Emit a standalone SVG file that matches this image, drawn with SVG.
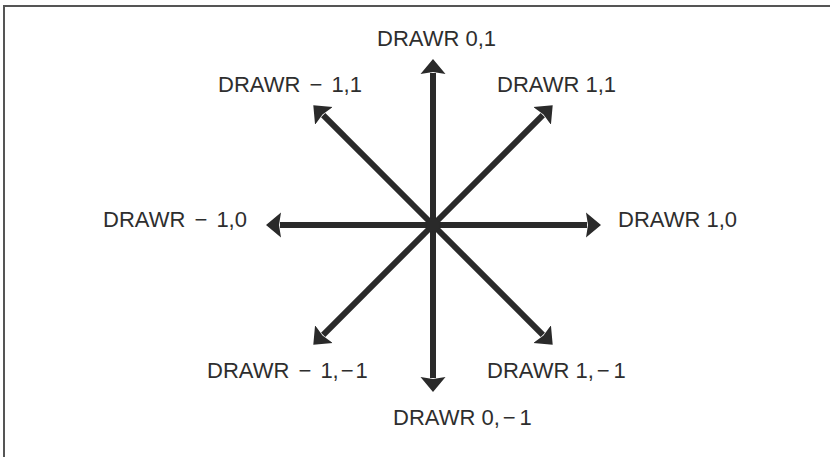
<svg xmlns="http://www.w3.org/2000/svg" width="830" height="457" viewBox="0 0 830 457">
<style>
.lbl{font-family:"Liberation Sans",Arial,Helvetica,sans-serif;font-size:22px;fill:#2e2e2e}
.arr{stroke:#2a2a2a;stroke-width:6;fill:none;marker-end:url(#head)}
</style>
<defs>
<marker id="head" markerUnits="userSpaceOnUse" markerWidth="17" markerHeight="28" viewBox="-1 -14 17 28" refX="0" refY="0" orient="auto">
<path d="M-1,-12.5 L14,0 L-1,12.5 L1,0 Z" fill="#2a2a2a"/>
</marker>
</defs>
<rect width="830" height="457" fill="#fff"/>
<g id="frame" stroke="#555" stroke-width="2" fill="none">
<path d="M4,457 L4,6 L830,6"/>
</g>
<g id="connectors">
<line class="arr" x1="433" y1="225" x2="433" y2="73"/>
<line class="arr" x1="433" y1="225" x2="433" y2="378"/>
<line class="arr" x1="433" y1="225" x2="280" y2="225"/>
<line class="arr" x1="433" y1="225" x2="587" y2="225"/>
<line class="arr" x1="433" y1="225" x2="323.2" y2="115.2"/>
<line class="arr" x1="433" y1="225" x2="542.8" y2="115.2"/>
<line class="arr" x1="433" y1="225" x2="323.2" y2="334.8"/>
<line class="arr" x1="433" y1="225" x2="542.8" y2="334.8"/>
</g>
<g id="origin"><circle cx="433" cy="225" r="7" fill="#2a2a2a"/></g>
<g id="n-0-1"><text class="lbl" x="377" y="46">DRAWR 0,1</text></g>
<g id="n-m1-1"><text class="lbl" x="218" y="92">DRAWR <tspan dx="3">−</tspan><tspan dx="3"> 1,1</tspan></text></g>
<g id="n-1-1"><text class="lbl" x="497" y="92">DRAWR 1,1</text></g>
<g id="n-m1-0"><text class="lbl" x="103" y="227">DRAWR <tspan dx="3">−</tspan><tspan dx="3"> 1,0</tspan></text></g>
<g id="n-1-0"><text class="lbl" x="618" y="227">DRAWR 1,0</text></g>
<g id="n-m1-m1"><text class="lbl" x="207" y="378">DRAWR <tspan dx="3">−</tspan><tspan dx="3"> 1,</tspan><tspan dx="2">−</tspan><tspan dx="2">1</tspan></text></g>
<g id="n-1-m1"><text class="lbl" x="487" y="378">DRAWR 1,<tspan dx="3">−</tspan><tspan dx="4">1</tspan></text></g>
<g id="n-0-m1"><text class="lbl" x="393" y="425">DRAWR 0,<tspan dx="3">−</tspan><tspan dx="4">1</tspan></text></g>
</svg>
